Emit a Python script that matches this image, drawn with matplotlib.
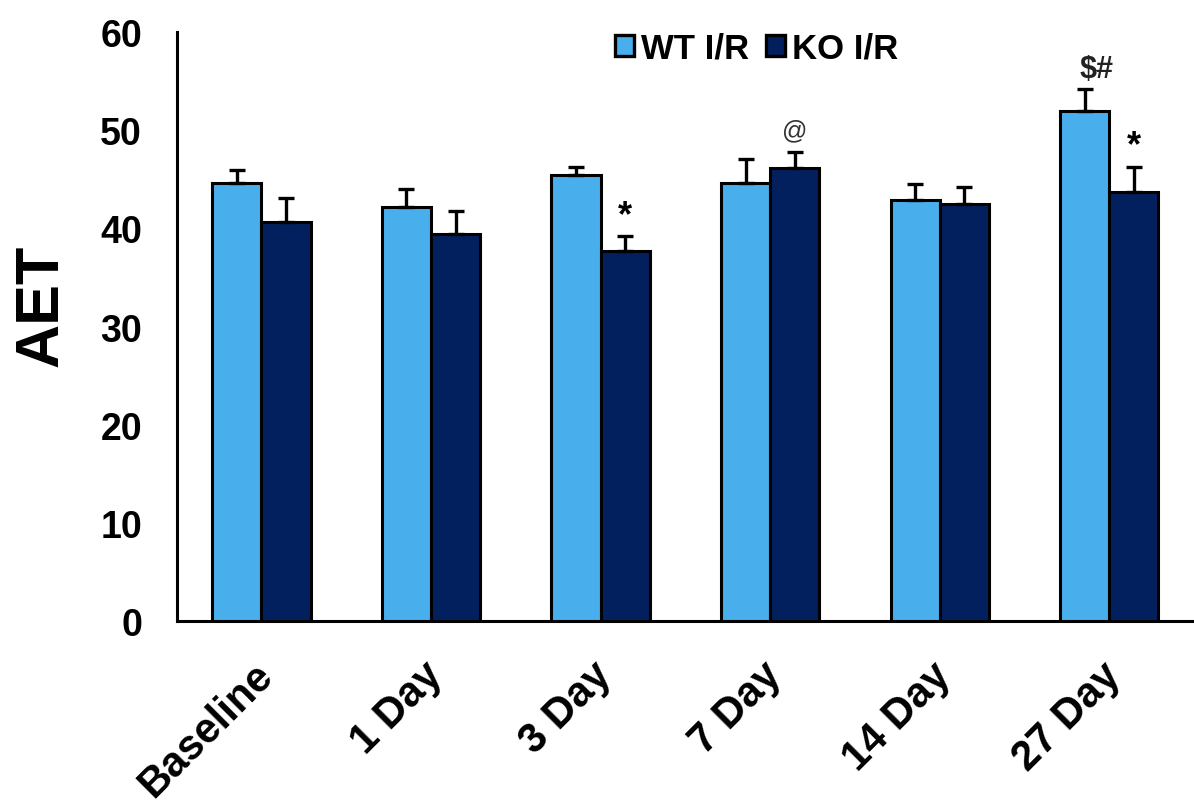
import matplotlib
matplotlib.use("Agg")
import matplotlib.pyplot as plt
import matplotlib.transforms as mtransforms
from matplotlib.patches import Patch
import numpy as np

plt.rcParams['font.family'] = ['Liberation Sans', 'DejaVu Sans']
plt.rcParams['font.weight'] = 'bold'

categories = ["Baseline", "1 Day", "3 Day", "7 Day", "14 Day", "27 Day"]
wt_mean = [44.6, 42.2, 45.4, 44.6, 42.9, 52.0]
wt_err = [1.3, 1.8, 0.9, 2.5, 1.6, 2.2]
ko_mean = [40.7, 39.4, 37.7, 46.2, 42.5, 43.7]
ko_err = [2.4, 2.4, 1.5, 1.6, 1.7, 2.6]
wt_marks = ["", "", "", "", "", "$#"]
ko_marks = ["", "", "*", "@", "", "*"]

wt_color = "#48AEEC"
ko_color = "#03205E"

fig = plt.figure(figsize=(11.94, 8.04), dpi=100)
ax = fig.add_axes([0.148, 0.226, 0.852, 0.733])

x = np.arange(len(categories))
w = 0.29
ax.bar(x - w / 2, wt_mean, w, color=wt_color, edgecolor="black", linewidth=2.2,
       yerr=[np.zeros(len(wt_err)), wt_err], capsize=6,
       error_kw=dict(elinewidth=2.4, capthick=2.4, ecolor="black"), zorder=3)
ax.bar(x + w / 2, ko_mean, w, color=ko_color, edgecolor="black", linewidth=2.2,
       yerr=[np.zeros(len(ko_err)), ko_err], capsize=6,
       error_kw=dict(elinewidth=2.4, capthick=2.4, ecolor="black"), zorder=3)

# significance markers above the error bars
for i in range(len(categories)):
    if wt_marks[i]:
        ax.text(x[i] - w / 2 + 0.07, wt_mean[i] + wt_err[i] + 0.5, wt_marks[i],
                ha="center", va="bottom", fontsize=22, fontweight="bold",
                color="#222222")
    if ko_marks[i]:
        m = ko_marks[i]
        if m == "@":
            ax.text(x[i] + w / 2, ko_mean[i] + ko_err[i] + 1.0, m,
                    ha="center", va="bottom", fontsize=18, fontweight="normal",
                    color="#333333")
        else:
            ax.text(x[i] + w / 2, ko_mean[i] + ko_err[i] + 0.3, m,
                    ha="center", va="bottom", fontsize=26, fontweight="bold",
                    color="black")

ax.set_xlim(-0.5, 5.5)
ax.set_ylim(0, 60)
ax.set_yticks(np.arange(0, 61, 10))
ax.set_xticks(x)
ax.set_xticklabels(categories, rotation=45, ha="right", rotation_mode="anchor",
                   fontsize=30, fontweight="bold")
ax.tick_params(axis="y", labelsize=27, length=0, pad=25)
ax.tick_params(axis="x", length=0, pad=24)
shift = mtransforms.ScaledTranslation(-9 / 100, 0, fig.dpi_scale_trans)
for lab in ax.get_xticklabels():
    lab.set_transform(lab.get_transform() + shift)
for lab in ax.get_yticklabels():
    lab.set_fontweight("bold")

for s in ["top", "right"]:
    ax.spines[s].set_visible(False)
for s in ["left", "bottom"]:
    ax.spines[s].set_linewidth(2.2)

ax.set_ylabel("AET", fontsize=44, fontweight="bold")
ax.yaxis.set_label_coords(-0.104, 0.537)

handles = [Patch(facecolor=wt_color, edgecolor="black", linewidth=2.4, label="WT I/R"),
           Patch(facecolor=ko_color, edgecolor="black", linewidth=2.4, label="KO I/R")]
ax.legend(handles=handles, loc="center", bbox_to_anchor=(0.57, 0.972), ncol=2,
          frameon=False, prop=dict(size=25, weight="bold"), handlelength=0.55,
          handleheight=0.55, handletextpad=0.2, columnspacing=0.5)

fig.savefig("out.png", dpi=100)
